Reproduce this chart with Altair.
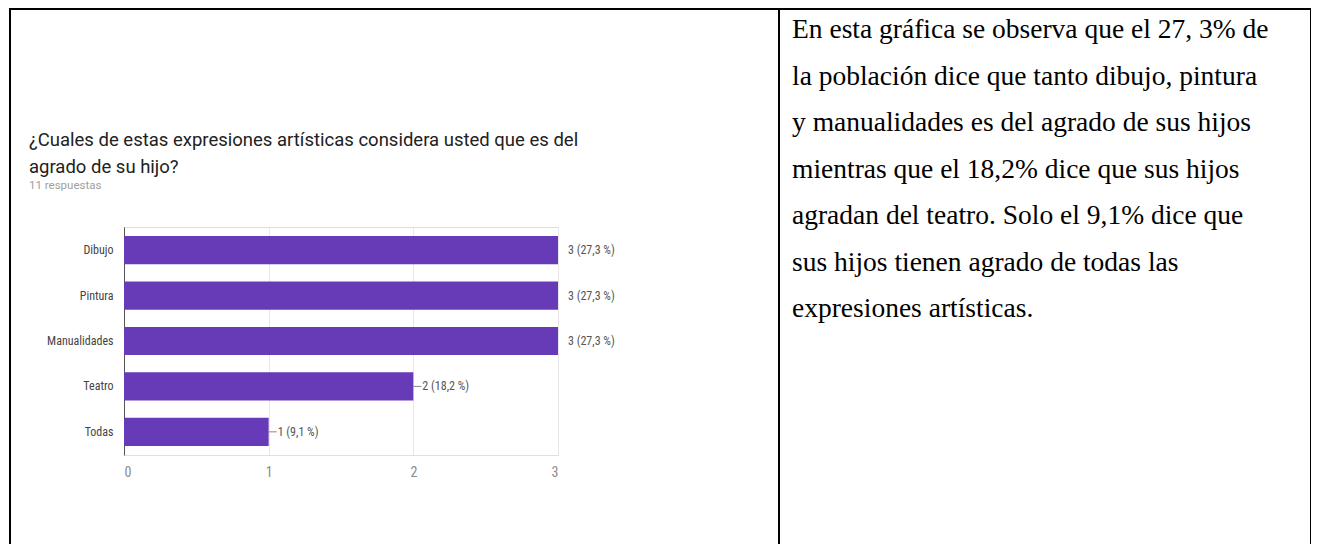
import altair as alt
import pandas as pd

# ---- data ----
categories = ["Dibujo", "Pintura", "Manualidades", "Teatro", "Todas"]
counts = [3, 3, 3, 2, 1]
percents = ["27,3", "27,3", "27,3", "18,2", "9,1"]
x_ticks = [0, 1, 2, 3]

title_lines = [
    "¿Cuales de estas expresiones artísticas considera usted que es del",
    "agrado de su hijo?",
]
subtitle = "11 respuestas"
paragraph_lines = [
    "En esta gráfica se observa que el 27, 3% de",
    "la población dice que tanto dibujo, pintura",
    "y manualidades es del agrado de sus hijos",
    "mientras que el 18,2% dice que sus hijos",
    "agradan del teatro. Solo el 9,1% dice que",
    "sus hijos tienen agrado de todas las",
    "expresiones artísticas.",
]

df = pd.DataFrame({"cat": categories, "count": counts, "pct": percents})
df["label"] = df["count"].astype(str) + " (" + df["pct"] + " %)"

# ---- layout (plot area = bar region) ----
W, H = 434, 228
PAD_L, PAD_T = 116, 219
TOTAL_W, TOTAL_H = 1303, 536

PURPLE = "#673ab7"
LABEL_FONT = "Liberation Sans Narrow, Arial Narrow, Roboto Condensed, Roboto, sans-serif"

base = alt.Chart(df)

x_enc = alt.X(
    "count:Q",
    scale=alt.Scale(domain=[0, 3], nice=False),
    axis=alt.Axis(
        values=x_ticks, format="d", title=None, grid=True, gridColor="#e8e8e8",
        domainColor="#e0e0e0", ticks=False, labelPadding=10,
        labelColor="#8a8a8a", labelFont=LABEL_FONT, labelFontSize=14,
    ),
)
y_enc = alt.Y(
    "cat:N", sort=categories,
    scale=alt.Scale(paddingInner=0.38, paddingOuter=0.2),
    axis=alt.Axis(
        title=None, ticks=False, domainColor="#555555", domainWidth=1,
        labelPadding=11, labelColor="#444444", labelFont=LABEL_FONT,
        labelFontSize=12,
    ),
)

bars = base.mark_bar(color=PURPLE).encode(x=x_enc, y=y_enc)

labels_full = base.transform_filter("datum.count >= 3").mark_text(
    align="left", baseline="middle", dx=10, fontSize=12,
    font=LABEL_FONT, color="#555555",
).encode(x="count:Q", y=alt.Y("cat:N", sort=categories), text="label:N")

labels_short = base.transform_filter("datum.count < 3").mark_text(
    align="left", baseline="middle", dx=9, fontSize=12,
    font=LABEL_FONT, color="#555555",
).encode(x="count:Q", y=alt.Y("cat:N", sort=categories), text="label:N")

leaders = base.transform_filter("datum.count < 3").mark_rule(
    color="#888888", strokeWidth=1, x2Offset=8,
).encode(x="count:Q", x2="count:Q", y=alt.Y("cat:N", sort=categories))

# ---- table borders ----
border = alt.Chart(pd.DataFrame({"k": [0]}))
left_b = border.mark_rule(color="black", strokeWidth=2).encode(
    x=alt.value(-114), y=alt.value(-219), y2=alt.value(330))
top_b = border.mark_rule(color="black", strokeWidth=2).encode(
    x=alt.value(-115), x2=alt.value(1189), y=alt.value(-218))
mid_b = border.mark_rule(color="black", strokeWidth=2).encode(
    x=alt.value(655), y=alt.value(-219), y2=alt.value(330))
right_b = border.mark_rule(color="black", strokeWidth=2).encode(
    x=alt.value(1187), y=alt.value(-219), y2=alt.value(330))

# ---- texts ----
title_txt = border.mark_text(
    align="left", baseline="alphabetic", font="Roboto", fontSize=18.5,
    color="#212121", lineBreak="\n", lineHeight=27,
).encode(x=alt.value(-95), y=alt.value(-81), text=alt.value("\n".join(title_lines)))

sub_txt = border.mark_text(
    align="left", baseline="alphabetic", font="Roboto", fontSize=11.5,
    color="#9e9e9e",
).encode(x=alt.value(-95), y=alt.value(-38), text=alt.value(subtitle))

para_txt = border.mark_text(
    align="left", baseline="alphabetic", font="Liberation Serif", fontSize=27.5,
    color="#000000", lineBreak="\n", lineHeight=46.5,
).encode(x=alt.value(668), y=alt.value(-189), text=alt.value("\n".join(paragraph_lines)))

chart = alt.layer(
    bars, leaders, labels_full, labels_short,
    left_b, top_b, mid_b, right_b, title_txt, sub_txt, para_txt,
).properties(
    width=W, height=H,
    autosize=alt.AutoSizeParams(type="none"),
    padding={"left": PAD_L, "top": PAD_T,
             "right": TOTAL_W - PAD_L - W, "bottom": TOTAL_H - PAD_T - H},
).configure_view(stroke=None).configure(background="white")

chart.save("out.html", embed_options={"renderer": "svg", "actions": False})
